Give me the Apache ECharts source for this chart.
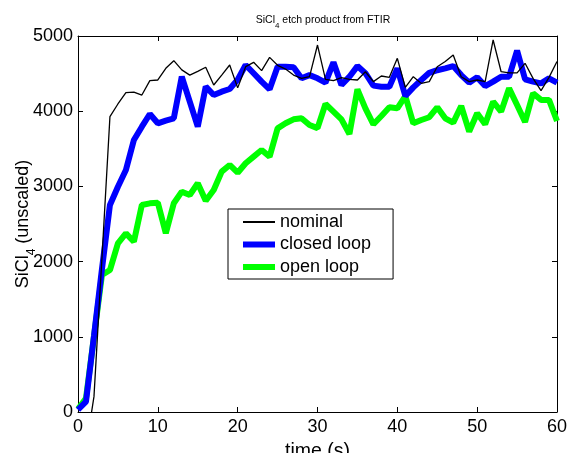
<!DOCTYPE html>
<html>
	<head>
		<meta charset="utf-8">
		<title>SiCl4 etch product from FTIR</title>
		<style type="text/css">
			html, body {
				margin: 0;
				padding: 0;
				background: #fff;
			}

			#chart {
				width: 569px;
				height: 453px;
			}
		</style>
	</head>
	<body>
		<div id="chart"></div>

		<script src="https://cdn.jsdelivr.net/npm/echarts@6/dist/echarts.min.js"></script>
		<script>
			// 数据：时间 0..60 s，每秒一个点
			var times = [];
			for (var i = 0; i <= 60; i++) {
				times.push(i);
			}

			var nominal = [-500, -480, 204, 2050, 3927, 4096, 4246, 4255, 4215, 4406,
				4415, 4570, 4672, 4550, 4480, 4530, 4585, 4348, 4480, 4614,
				4310, 4592, 4650, 4540, 4716, 4610, 4560, 4480, 4437, 4459,
				4880, 4424, 4406, 4446, 4424, 4415, 4525, 4393, 4468, 4450,
				4703, 4317, 4459, 4370, 4393, 4592, 4660, 4747, 4459, 4393,
				4415, 4393, 4947, 4525, 4510, 4510, 4637, 4437, 4273, 4450,
				4660];

			var closedLoop = [30, 137, 1009, 1900, 2753, 2996, 3218, 3617, 3794, 3963,
				3839, 3875, 3906, 4459, 4127, 3794, 4326, 4215, 4260, 4295,
				4420, 4614, 4505, 4393, 4291, 4592, 4592, 4585, 4437, 4480,
				4437, 4380, 4650, 4348, 4459, 4600, 4505, 4340, 4326, 4326,
				4570, 4202, 4317, 4415, 4510, 4545, 4570, 4600, 4480, 4380,
				4450, 4335, 4393, 4459, 4459, 4805, 4424, 4393, 4370, 4437,
				4380];

			var openLoop = [40, 182, 1002, 1822, 1888, 2243, 2376, 2266, 2753, 2775,
				2784, 2376, 2775, 2930, 2886, 3041, 2810, 2952, 3196, 3285,
				3182, 3307, 3396, 3484, 3396, 3772, 3839, 3892, 3906, 3817,
				3775, 4096, 3994, 3892, 3697, 4291, 4038, 3826, 3936, 4052,
				4038, 4202, 3839, 3883, 3920, 4052, 3906, 3848, 4069, 3728,
				3972, 3826, 4127, 3994, 4304, 4082, 3857, 4238, 4150, 4150,
				3870];

			var seriesNames = ['nominal', 'closed loop', 'open loop'];
			var seriesColors = ['#000000', '#0000ff', '#00ff00'];
			var lineWidths = [1.3, 6, 6];
			var legendWidths = [2, 6, 6];

			function pairs(values) {
				return times.map(function(t, k) {
					return [t, values[k]];
				});
			}

			var font = 'Liberation Sans, Arial, sans-serif';

			var myChart = echarts.init(document.getElementById('chart'));

			// 四周的框线和朝内的刻度
			function axisBase(extra) {
				return Object.assign({
					type: 'value',
					nameMoveOverlap: false,
					axisLine: {
						show: true,
						onZero: false,
						lineStyle: { color: '#000', width: 1 }
					},
					axisTick: {
						show: true,
						inside: true,
						length: 5,
						lineStyle: { color: '#000' }
					},
					splitLine: { show: false }
				}, extra);
			}

			var option = {
				animation: false,
				backgroundColor: '#fff',
				title: {
					text: 'SiCl{sub|4} etch product from FTIR',
					left: 318,
					top: 10,
					textAlign: 'center',
					textStyle: {
						fontFamily: font,
						fontSize: 10.5,
						fontWeight: 'normal',
						color: '#000',
						lineHeight: 11,
						rich: {
							sub: {
								fontFamily: font,
								fontSize: 8,
								lineHeight: 8,
								verticalAlign: 'top',
								padding: [7, 0, 0, 0]
							}
						}
					}
				},
				legend: {
					data: seriesNames.map(function(n, k) {
						return {
							name: n,
							lineStyle: { color: seriesColors[k], width: legendWidths[k] }
						};
					}),
					orient: 'vertical',
					left: 228,
					top: 209,
					padding: [3, 22, 2, 12],
					itemGap: 2.5,
					itemWidth: 32,
					itemHeight: 8,
					borderColor: '#000',
					borderWidth: 1,
					borderRadius: 0,
					itemStyle: { opacity: 0 },
					textStyle: {
						fontFamily: font,
						fontSize: 18,
						lineHeight: 20,
						color: '#000'
					}
				},
				grid: {
					left: 78,
					right: 12,
					top: 36,
					bottom: 41,
					outerBoundsMode: 'none'
				},
				xAxis: [
					axisBase({
						min: 0,
						max: 60,
						interval: 10,
						name: 'time (s)',
						nameLocation: 'middle',
						nameGap: 30,
						nameTextStyle: { fontFamily: font, fontSize: 19.5, color: '#000' },
						axisLabel: { fontFamily: font, fontSize: 18, color: '#000', margin: 6 }
					}),
					axisBase({
						position: 'top',
						min: 0,
						max: 60,
						interval: 10,
						axisLabel: { show: false }
					})
				],
				yAxis: [
					axisBase({
						min: 0,
						max: 5000,
						interval: 1000,
						name: 'SiCl{sub|4} (unscaled)',
						nameLocation: 'middle',
						nameGap: 46,
						nameTextStyle: {
							fontFamily: font,
							fontSize: 18,
							lineHeight: 18,
							color: '#000',
							rich: {
								sub: {
									fontFamily: font,
									fontSize: 12,
									lineHeight: 12,
									verticalAlign: 'top',
									padding: [12, 0, 0, 0]
								}
							}
						},
						axisLabel: {
							fontFamily: font,
							fontSize: 18,
							color: '#000',
							margin: 5,
							formatter: function(v) {
								return String(v);
							}
						}
					}),
					axisBase({
						position: 'right',
						min: 0,
						max: 5000,
						interval: 1000,
						axisLabel: { show: false }
					})
				],
				series: [nominal, closedLoop, openLoop].map(function(values, k) {
					return {
						name: seriesNames[k],
						type: 'line',
						symbol: 'none',
						color: seriesColors[k],
						lineStyle: { color: seriesColors[k], width: lineWidths[k] },
						data: pairs(values),
						z: 4 - k
					};
				})
			};

			myChart.setOption(option);
		</script>
	</body>
</html>
